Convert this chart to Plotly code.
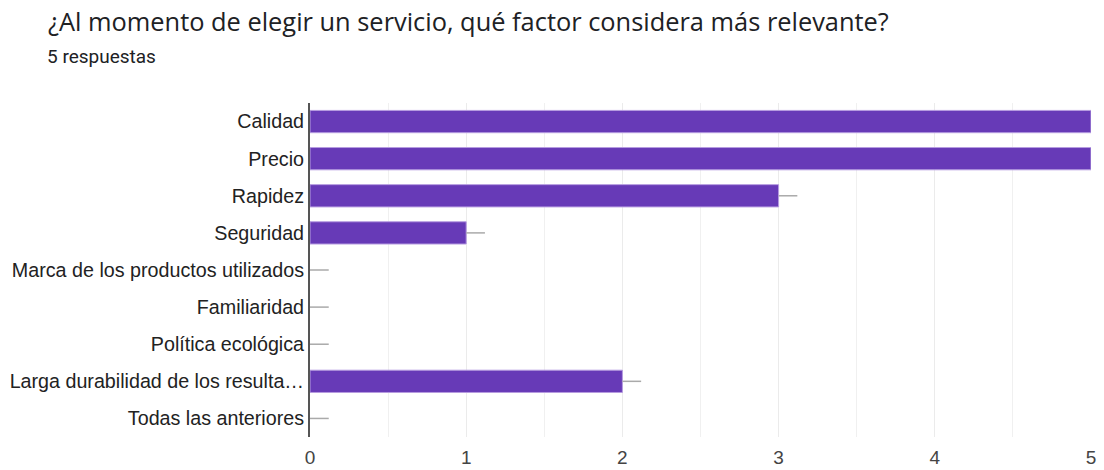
import plotly.graph_objects as go

categories = ["Calidad", "Precio", "Rapidez", "Seguridad", "Marca de los productos utilizados",
              "Familiaridad", "Política ecológica", "Larga durabilidad de los resulta…",
              "Todas las anteriores"]
values = [5, 5, 3, 1, 0, 0, 0, 2, 0]
stem = [0.12] * len(values)
x_ticks = [0, 1, 2, 3, 4, 5]

fig = go.Figure()
fig.add_trace(go.Bar(
    y=categories, x=values, orientation="h",
    marker=dict(color="#673ab7",
                line=dict(color="#b69ce0", width=[1 if v > 0 else 0 for v in values])),
    width=0.6,
    error_x=dict(type="data", symmetric=False, array=stem, arrayminus=[0] * len(values),
                 color="#aaaaaa", thickness=1.5, width=0),
    hoverinfo="x+y",
))

fig.update_layout(
    width=1104, height=470,
    margin=dict(l=310, r=13, t=103, b=33),
    paper_bgcolor="white", plot_bgcolor="white",
    showlegend=False,
    font=dict(family="Liberation Sans, Arial, sans-serif", color="#222222"),
    title=dict(text="¿Al momento de elegir un servicio, qué factor considera más relevante?",
               x=48 / 1104, xanchor="left", xref="container",
               y=1 - 22 / 470, yanchor="middle", yref="container",
               font=dict(size=25.4, color="#202124", family="Open Sans, sans-serif")),
    annotations=[dict(text="5 respuestas", xref="paper", yref="paper",
                      x=(45 - 310) / 781, y=1 + (103 - 57) / 334,
                      xanchor="left", yanchor="middle", showarrow=False,
                      font=dict(size=19, color="#202124", family="Roboto, sans-serif"))],
    xaxis=dict(range=[0, 5], tickvals=x_ticks, showgrid=True, gridcolor="#ebebeb", gridwidth=1,
               minor=dict(dtick=0.5, showgrid=True, gridcolor="#f0f0f0"),
               zeroline=False, showline=False, ticks="", ticklabelstandoff=7, automargin=False,
               tickfont=dict(size=19, color="#444444", family="Liberation Sans, Arial, sans-serif")),
    yaxis=dict(autorange="reversed", showline=True, linecolor="#555555", linewidth=2,
               ticks="", showgrid=False, ticklabelstandoff=0, automargin=False,
               tickfont=dict(size=19.7, color="#222222", family="Liberation Sans, Arial, sans-serif")),
    bargap=0.4,
)

fig.write_html("out.html")
